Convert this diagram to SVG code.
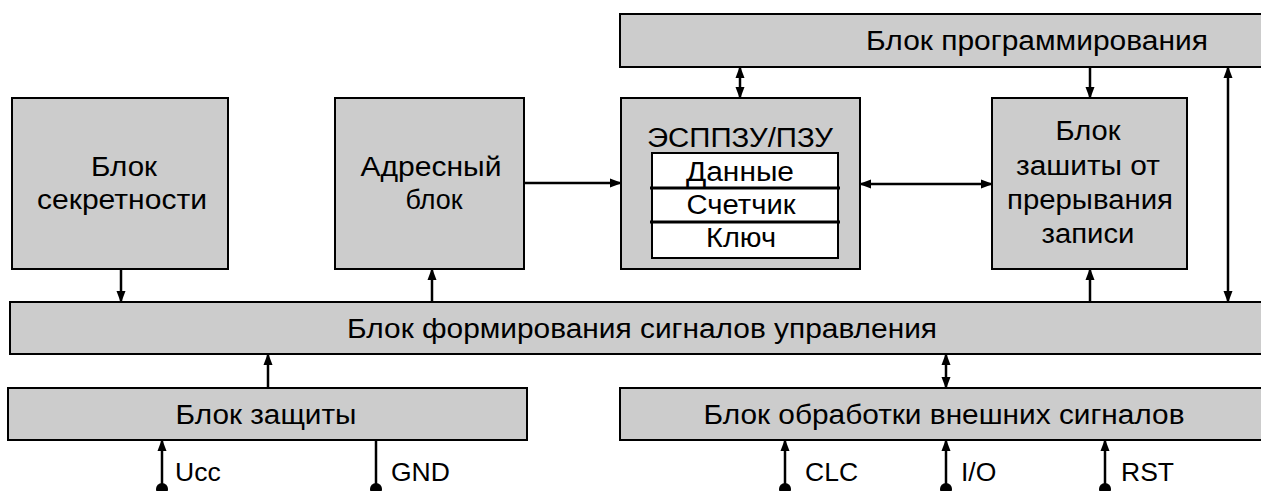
<svg xmlns="http://www.w3.org/2000/svg" width="1261" height="491" viewBox="0 0 1261 491">
  <style>
    .blk { fill: #cccccc; stroke: #000; stroke-width: 2; }
    .mem { fill: #ffffff; stroke: #000; stroke-width: 2; }
    .sep { stroke: #000; stroke-width: 3; }
    .t { font-family: "Liberation Sans", Arial, sans-serif; font-size: 27px; fill: #000; text-anchor: middle; }
    .lbl { font-family: "Liberation Sans", Arial, sans-serif; font-size: 26.5px; fill: #000; }
    .w { fill: none; stroke: #000; stroke-width: 2.5; }
    .a1 { marker-end: url(#arr); }
    .a2 { marker-start: url(#arr); marker-end: url(#arr); }
    .dot { fill: #000; }
  </style>
  <defs>
    <marker id="arr" markerUnits="userSpaceOnUse" markerWidth="12" markerHeight="10" refX="11" refY="4.5" orient="auto-start-reverse" viewBox="0 0 12 9">
      <path d="M0,0 L12,4.5 L0,9 z" fill="#000"/>
    </marker>
  </defs>

  <rect width="1261" height="491" fill="#ffffff"/>

  <!-- programming block (runs off the right edge) -->
  <g id="prog">
    <rect class="blk" x="620" y="14" width="660" height="53"/>
    <text class="t" x="1037" y="50" textLength="342" lengthAdjust="spacingAndGlyphs">Блок программирования</text>
  </g>

  <!-- secrecy block -->
  <g id="secret">
    <rect class="blk" x="12" y="98" width="216" height="171"/>
    <text class="t" x="124" y="176" textLength="66" lengthAdjust="spacingAndGlyphs">Блок</text>
    <text class="t" x="122" y="209" textLength="170" lengthAdjust="spacingAndGlyphs">секретности</text>
  </g>

  <!-- address block -->
  <g id="addr">
    <rect class="blk" x="335" y="98" width="189" height="171"/>
    <text class="t" x="431" y="176" textLength="141" lengthAdjust="spacingAndGlyphs">Адресный</text>
    <text class="t" x="434" y="209" textLength="57" lengthAdjust="spacingAndGlyphs">блок</text>
  </g>

  <!-- EEPROM / ROM with its three areas -->
  <g id="eeprom">
    <rect class="blk" x="621" y="98" width="239" height="171"/>
    <text class="t" x="740" y="147" textLength="186" lengthAdjust="spacingAndGlyphs">ЭСППЗУ/ПЗУ</text>
    <rect class="mem" x="652" y="153" width="186" height="105"/>
    <line class="sep" x1="650" y1="188" x2="840" y2="188"/>
    <line class="sep" x1="650" y1="222" x2="840" y2="222"/>
    <text class="t" x="740" y="181" textLength="108" lengthAdjust="spacingAndGlyphs">Данные</text>
    <text class="t" x="741" y="214" textLength="109" lengthAdjust="spacingAndGlyphs">Счетчик</text>
    <text class="t" x="741" y="247" textLength="70" lengthAdjust="spacingAndGlyphs">Ключ</text>
  </g>

  <!-- write-interrupt protection block -->
  <g id="wprot">
    <rect class="blk" x="992" y="98" width="195" height="171"/>
    <text class="t" x="1088" y="140" textLength="65" lengthAdjust="spacingAndGlyphs">Блок</text>
    <text class="t" x="1088" y="175" textLength="144" lengthAdjust="spacingAndGlyphs">зашиты от</text>
    <text class="t" x="1090" y="209" textLength="166" lengthAdjust="spacingAndGlyphs">прерывания</text>
    <text class="t" x="1088" y="243" textLength="93" lengthAdjust="spacingAndGlyphs">записи</text>
  </g>

  <!-- control signal generation block -->
  <g id="ctrl">
    <rect class="blk" x="10" y="302" width="1270" height="52"/>
    <text class="t" x="642" y="338" textLength="590" lengthAdjust="spacingAndGlyphs">Блок формирования сигналов управления</text>
  </g>

  <!-- protection block -->
  <g id="prot">
    <rect class="blk" x="8" y="388" width="519" height="52"/>
    <text class="t" x="266" y="424" textLength="181" lengthAdjust="spacingAndGlyphs">Блок защиты</text>
  </g>

  <!-- external signal processing block -->
  <g id="ext">
    <rect class="blk" x="620" y="388" width="660" height="52"/>
    <text class="t" x="944" y="424" textLength="481" lengthAdjust="spacingAndGlyphs">Блок обработки внешних сигналов</text>
  </g>

  <g id="connectors">
    <line class="w a2" x1="740" y1="67" x2="740" y2="98"/>
    <line class="w a1" x1="1090" y1="67" x2="1090" y2="98"/>
    <line class="w a2" x1="1228" y1="67" x2="1228" y2="302"/>
    <line class="w a1" x1="524" y1="183" x2="621" y2="183"/>
    <line class="w a2" x1="860" y1="184" x2="992" y2="184"/>
    <line class="w a1" x1="121" y1="269" x2="121" y2="302"/>
    <line class="w a1" x1="432" y1="302" x2="432" y2="269"/>
    <line class="w a1" x1="1090" y1="302" x2="1090" y2="269"/>
    <line class="w a1" x1="268" y1="388" x2="268" y2="354"/>
    <line class="w a2" x1="946" y1="354" x2="946" y2="388"/>
    <!-- external pins -->
    <line class="w a1" x1="162" y1="489" x2="162" y2="440"/>
    <line class="w" x1="376" y1="489" x2="376" y2="440"/>
    <line class="w a1" x1="785" y1="489" x2="785" y2="440"/>
    <line class="w a1" x1="946" y1="489" x2="946" y2="440"/>
    <line class="w a1" x1="1105" y1="489" x2="1105" y2="440"/>
    <circle class="dot" cx="162" cy="489" r="6"/>
    <circle class="dot" cx="376" cy="489" r="6"/>
    <circle class="dot" cx="785" cy="489" r="6"/>
    <circle class="dot" cx="946" cy="489" r="6"/>
    <circle class="dot" cx="1105" cy="489" r="6"/>
  </g>

  <g id="pin-labels">
    <text class="lbl" x="175" y="481">Ucc</text>
    <text class="lbl" x="391" y="481">GND</text>
    <text class="lbl" x="805" y="481">CLC</text>
    <text class="lbl" x="961" y="481">I/O</text>
    <text class="lbl" x="1121" y="481">RST</text>
  </g>
</svg>
